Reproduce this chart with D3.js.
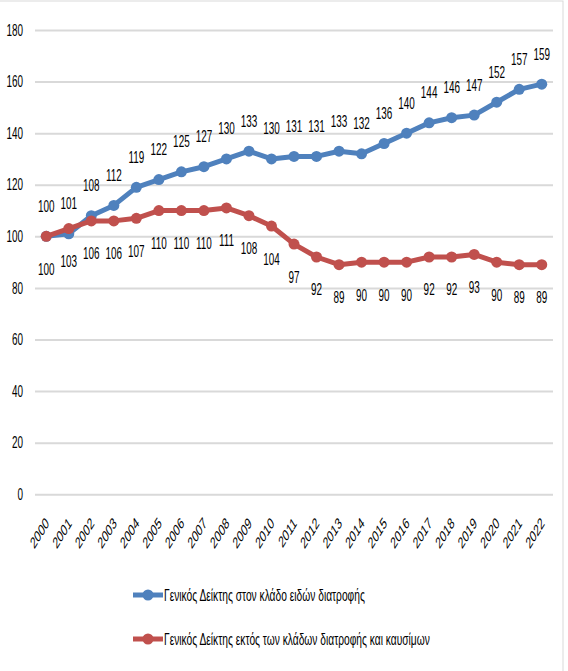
<!doctype html>
<html lang="el">
<head>
<meta charset="utf-8">
<script src="https://d3js.org/d3.v7.min.js"></script>
<style>
  body { margin: 0; background: #fff; }
  text { font-family: "Liberation Sans", Arial, sans-serif; }
</style>
</head>
<body>
<svg id="svg1" width="568" height="671"></svg>
<script>
// data
const years = ["2000","2001","2002","2003","2004","2005","2006","2007","2008","2009","2010","2011",
               "2012","2013","2014","2015","2016","2017","2018","2019","2020","2021","2022"];
const foodIndex = [100,101,108,112,119,122,125,127,130,133,130,131,131,133,132,136,140,144,146,147,152,157,159];
const otherIndex = [100,103,106,106,107,110,110,110,111,108,104,97,92,89,90,90,90,92,92,93,90,89,89];
const yTicks = [0,20,40,60,80,100,120,140,160,180];
const seriesNames = ["Γενικός Δείκτης στον κλάδο ειδών διατροφής",
                     "Γενικός Δείκτης εκτός των κλάδων διατροφής και καυσίμων"];
const colors = ["#4f81bd", "#c0504d"];

const squeeze = 0.62; // the picture's text is narrow, squeeze it horizontally
const svg = d3.select("#svg1");
const plot = { left: 35, right: 553, top: 30, bottom: 494.3 };

// chart frame
svg.append("rect")
  .attr("x", -2).attr("y", 1).attr("width", 565).attr("height", 680)
  .attr("fill", "none").attr("stroke", "#d9d9d9").attr("stroke-width", 1);

const x = d3.scalePoint().domain(years).range([plot.left, plot.right]).padding(0.5);
const y = d3.scaleLinear().domain([0, 180]).range([plot.bottom, plot.top]);

// gridlines + y labels
const yAxis = svg.append("g")
  .attr("transform", `translate(${plot.left},0)`)
  .call(d3.axisLeft(y).tickValues(yTicks).tickSize(-(plot.right - plot.left)));
yAxis.select(".domain").remove();
yAxis.selectAll(".tick line").attr("stroke", "#d9d9d9").attr("stroke-width", 2);
yAxis.selectAll(".tick text")
  .attr("font-size", 16).attr("fill", "#000")
  .attr("x", 0)
  .attr("transform", `translate(-12,0) scale(${squeeze},1)`);

// x labels, rotated
const xAxis = svg.append("g")
  .attr("transform", `translate(0,${plot.bottom})`)
  .call(d3.axisBottom(x).tickSize(0).tickPadding(0));
xAxis.select(".domain").remove();
xAxis.selectAll(".tick text")
  .attr("font-size", 16).attr("fill", "#000")
  .attr("text-anchor", "end")
  .attr("dy", null).attr("y", 0)
  .attr("transform", `translate(3,30) scale(${squeeze},1) rotate(-45)`);

const series = [foodIndex, otherIndex];
const line = d3.line().x((d, i) => x(years[i])).y(d => y(d));

series.forEach((vals, s) => {
  const g = svg.append("g");
  g.append("path")
    .datum(vals)
    .attr("d", line)
    .attr("fill", "none")
    .attr("stroke", colors[s])
    .attr("stroke-width", 5)
    .attr("stroke-linejoin", "round");
  g.selectAll("circle")
    .data(vals)
    .join("circle")
    .attr("cx", (d, i) => x(years[i]))
    .attr("cy", d => y(d))
    .attr("r", 5.5)
    .attr("fill", colors[s]);
  g.selectAll("text")
    .data(vals)
    .join("text")
    .attr("transform", (d, i) =>
      `translate(${x(years[i])},${y(d) + (s === 0 ? -24.5 : 38.5)}) scale(${squeeze},1)`)
    .attr("text-anchor", "middle")
    .attr("font-size", 16)
    .attr("fill", "#000")
    .text(d => d);
});

// legend
const legend = svg.append("g");
seriesNames.forEach((name, s) => {
  const ly = 595 + s * 44;
  legend.append("line")
    .attr("x1", 133).attr("x2", 163).attr("y1", ly).attr("y2", ly)
    .attr("stroke", colors[s]).attr("stroke-width", 5);
  legend.append("circle")
    .attr("cx", 148).attr("cy", ly).attr("r", 5.5).attr("fill", colors[s]);
  legend.append("text")
    .attr("transform", `translate(164,${ly + 6}) scale(${squeeze},1)`)
    .attr("font-size", 16.5)
    .attr("fill", "#000")
    .text(name);
});
</script>
</body>
</html>
